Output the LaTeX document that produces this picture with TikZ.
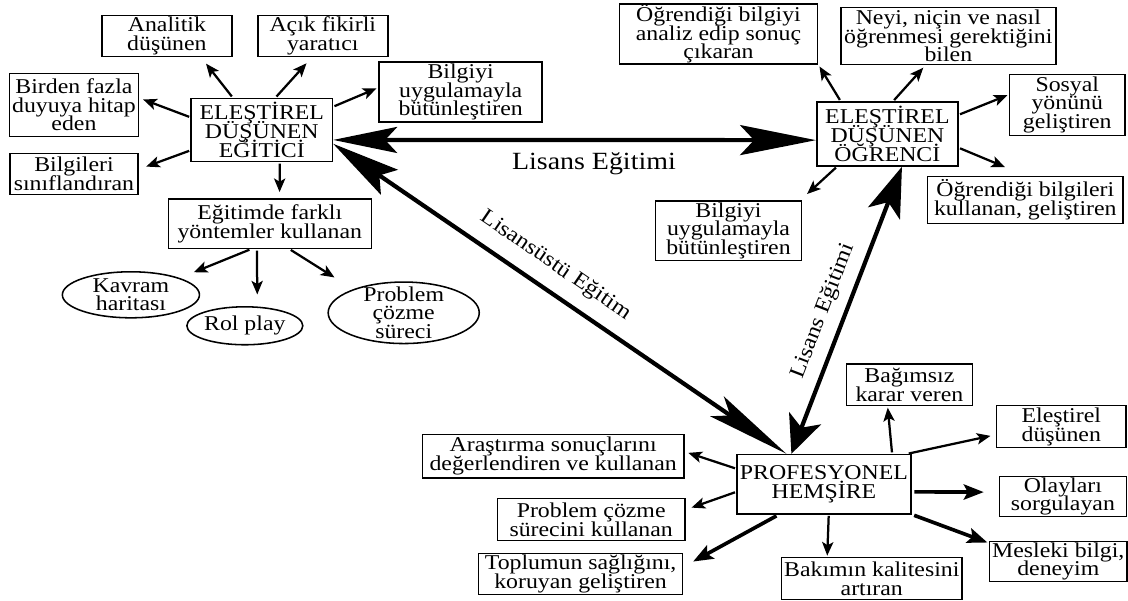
\documentclass[tikz,border=0pt]{standalone}
\usepackage{fontspec}
\setmainfont{Liberation Serif}[FakeStretch=1.13]
\usetikzlibrary{arrows.meta,shapes.geometric}
\newcommand\kutufont{\fontsize{15}{13.2}\selectfont\lineskiplimit=-\maxdimen}
\newcommand\etiketfont{\fontsize{17.6}{18}\selectfont}
\newcommand\caprazfont{\fontsize{15.4}{16}\selectfont}

\begin{document}
\begin{tikzpicture}[
    kutu/.style={draw, line width=1.1pt, align=center, inner xsep=2pt, inner ysep=0.5pt, font=\kutufont},
    elips/.style={draw, ellipse, line width=1.1pt, align=center, inner sep=0pt, font=\kutufont},
    ince/.style={line width=1.6pt, -{Stealth[length=3.4mm,width=2.8mm,inset=0.8mm]}, shorten <=1pt},
    kalin/.style={line width=2.6pt, -{Stealth[length=5mm,width=3.8mm,inset=1mm]}, shorten <=2pt},
    ana/.style={line width=3pt}
  ]
  % Background
  \fill[white] (0,0) rectangle (28.2,15.025);

  % Egitici
  \node[kutu, minimum width=3.53cm, minimum height=1.58cm] (egitici) at (6.55,11.775) {ELEŞTİREL\\DÜŞÜNEN\\EĞİTİCİ};
  \node[kutu, minimum width=3.25cm, minimum height=1.03cm] (analitik) at (4.175,14.125) {Analitik\\düşünen};
  \node[kutu, minimum width=3.25cm, minimum height=1.03cm] (acik) at (8.075,14.125) {Açık fikirli\\yaratıcı};
  \node[kutu, minimum width=3.2cm, minimum height=1.58cm] (birden) at (1.85,12.4) {Birden fazla\\duyuya hitap\\eden};
  \node[kutu, minimum width=3.2cm, minimum height=1.03cm] (bilgileri) at (1.85,10.675) {Bilgileri\\sınıflandıran};
  \node[kutu, minimum width=4.08cm, minimum height=1.5cm] (bilgiyiL) at (11.525,12.725) {Bilgiyi\\uygulamayla\\bütünleştiren};
  \node[kutu, minimum width=5.08cm, minimum height=1.23cm] (yontem) at (6.75,9.425) {Eğitimde farklı\\yöntemler kullanan};

  % Yontemler
  \node[elips, minimum width=3.43cm, minimum height=1.1cm] (kavram) at (3.275,7.65) {Kavram\\haritası};
  \node[elips, minimum width=2.9cm, minimum height=0.95cm] (rolplay) at (6.125,6.875) {Rol play};
  \node[elips, inner ysep=-3pt, minimum width=3.78cm, minimum height=1.5cm] (problemE) at (10.1,7.2) {Problem\\çözme\\süreci};

  % Ogrenci
  \node[kutu, minimum width=3.53cm, minimum height=1.6cm] (ogrenci) at (22.2,11.675) {ELEŞTİREL\\DÜŞÜNEN\\ÖĞRENCİ};
  \node[kutu, minimum width=4.95cm, minimum height=1.45cm] (analiz) at (17.975,14.175) {Öğrendiği bilgiyi\\analiz edip sonuç\\çıkaran};
  \node[kutu, minimum width=5.38cm, minimum height=1.43cm] (neyi) at (23.725,14.125) {Neyi, niçin ve nasıl\\öğrenmesi gerektiğini\\bilen};
  \node[kutu, minimum width=2.88cm, minimum height=1.53cm] (sosyal) at (26.7,12.4) {Sosyal\\yönünü\\geliştiren};
  \node[kutu, minimum width=4.9cm, minimum height=1.18cm] (kullanan) at (25.65,10.025) {Öğrendiği bilgileri\\kullanan, geliştiren};
  \node[kutu, minimum width=3.65cm, minimum height=1.48cm] (bilgiyiR) at (18.225,9.25) {Bilgiyi\\uygulamayla\\bütünleştiren};

  % Hemsire
  \node[kutu, minimum width=4.28cm, minimum height=1.48cm] (hemsire) at (20.6125,2.9125) {PROFESYONEL\\HEMŞİRE};
  \node[kutu, minimum width=3.15cm, minimum height=1.05cm] (bagimsiz) at (22.75,5.4) {Bağımsız\\karar veren};
  \node[kutu, minimum width=3.25cm, minimum height=1.05cm] (elestirel) at (26.55,4.35) {Eleştirel\\düşünen};
  \node[kutu, minimum width=3.18cm, minimum height=1cm] (olaylari) at (26.59,2.6) {Olayları\\sorgulayan};
  \node[kutu, minimum width=3.4cm, minimum height=1cm] (mesleki) at (26.475,0.975) {Mesleki bilgi,\\deneyim};
  \node[kutu, minimum width=3.63cm, minimum height=1.05cm] (bakim) at (21.81,0.55) {Bakımın kalitesini\\artıran};
  \node[kutu, minimum width=6.53cm, minimum height=1.08cm] (arastirma) at (13.84,3.6125) {Araştırma sonuçlarını\\değerlendiren ve kullanan};
  \node[kutu, minimum width=4.68cm, minimum height=1.05cm] (problemK) at (14.79,2.025) {Problem çözme\\sürecini kullanan};
  \node[kutu, minimum width=5.1cm, minimum height=1.03cm] (toplum) at (14.525,0.6625) {Toplumun sağlığını,\\koruyan geliştiren};

  % Thin arrows
  \foreach \a/\b/\g in {
    egitici.132/analitik.-32/2mm,
    egitici.67.9/acik.-117.6/2mm,
    egitici.170.8/birden.6.9/1mm,
    egitici.-164.9/bilgileri.4.8/2mm,
    egitici.-61.6/yontem.69.8/1.6mm,
    egitici.18.4/bilgiyiL.177.5/0.5mm,
    yontem.-127.2/kavram.19/3.8mm,
    yontem.-117.9/rolplay.57.2/3mm,
    yontem.-52.8/problemE.155.9/5.5mm,
    ogrenci.145.8/analiz.-17.6/0.6mm,
    ogrenci.80.3/neyi.-128.5/0.8mm,
    ogrenci.15.3/sosyal.170.5/0.4mm,
    ogrenci.-11/kullanan.90/5.5mm,
    ogrenci.-147.5/bilgiyiR.23.2/2.4mm,
    hemsire.170.8/arastirma.2.6/1mm,
    hemsire.-175.9/problemK.6.5/1.6mm,
    hemsire.-81.3/bakim.154/0.3mm,
    hemsire.24.6/bagimsiz.-135/0.3mm,
    hemsire.20.2/elestirel.-173.1/1.3mm
  }{
    \draw[ince, shorten >=\g] (\a) -- (\b);
  }

  % Thick arrows
  \foreach \a/\b/\g in {
    hemsire.-146.4/toplum.4/2.8mm,
    hemsire.-5/olaylari.176/3.7mm,
    hemsire.-19/mesleki.165/0.3mm
  }{
    \draw[kalin, shorten >=\g] (\a) -- (\b);
  }

  % Main arrows with labels
  \draw[ana, {Stealth[length=16mm,width=6.5mm,inset=3mm]}-{Stealth[length=19mm,width=7.5mm,inset=3.5mm]}]
    (egitici.-8) -- node[pos=0.54, below=4pt, font=\etiketfont] (lisans1) {Lisans Eğitimi} (ogrenci.185);
  \draw[ana, {Stealth[length=17mm,width=7.5mm,inset=3mm]}-{Stealth[length=21mm,width=6mm,inset=4mm]}]
    (egitici.-11.5) -- node[pos=0.46, sloped, above=6pt, font=\caprazfont] (lisansustu) {Lisansüstü Eğitim} (hemsire.141);
  \draw[ana, {Stealth[length=9.5mm,width=8.5mm,inset=2.5mm]}-{Stealth[length=12.5mm,width=8.5mm,inset=3mm]}]
    (hemsire.137) -- node[pos=0.47, sloped, above=3.5pt, font=\caprazfont] (lisans2) {Lisans Eğitimi} (ogrenci.-66.7);
\end{tikzpicture}
\end{document}
